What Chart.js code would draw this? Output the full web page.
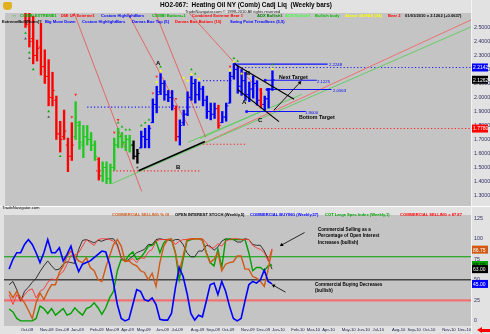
<!DOCTYPE html>
<html><head><meta charset="utf-8">
<script src="https://cdn.jsdelivr.net/npm/chart.js@4.4.1/dist/chart.umd.min.js"></script>
<style>
html,body{margin:0;padding:0;background:#e2e2e2;}
#wrap{position:relative;width:490px;height:334px;overflow:hidden;background:#e2e2e2;font-family:"Liberation Sans",Arial,sans-serif;}
canvas{position:absolute;left:0;}
.t{position:absolute;white-space:pre;line-height:1;font-weight:bold;}
.s{font-size:4.1px;}
.n{font-weight:normal;}
</style></head><body>
<div id="wrap">
<canvas id="cTop" width="490" height="211" style="top:0"></canvas>
<canvas id="cBot" width="490" height="123" style="top:211px"></canvas>

<div style="position:absolute;left:3px;top:2px;width:9px;height:8px;background:#e0b020;border-radius:2px 2px 4px 4px;"></div>
<div class="t" style="left:160px;top:2px;font-size:6.4px;color:#000">HO2-067:  Heating Oil NY (Comb) Cadj Liq  (Weekly bars)</div>
<div class="t n" style="left:185px;top:9.8px;font-size:4.1px;color:#222">TradeNavigator.com © 1999-2010 All rights reserved</div>

<div class="t s" style="left:12px;top:13.6px;color:#00b000">↑↑</div>
<div class="t s" style="left:20px;top:13.6px;color:#00b000">COMBI EXTREME1</div>
<div class="t s" style="left:61px;top:13.6px;color:#ff0000">DMI UP Extreme1</div>
<div class="t s" style="left:101px;top:13.6px;color:#0000ff">Custom HighlightBars</div>
<div class="t s" style="left:152px;top:13.6px;color:#00b000">COMBI Bottom+1</div>
<div class="t s" style="left:192px;top:13.6px;color:#ff0000">Combined Extreme Bear 1</div>
<div class="t s" style="left:257px;top:13.6px;color:#008000">ADX Bullish1</div>
<div class="t s" style="left:285px;top:13.6px;color:#40ff40">ADX Bullish1</div>
<div class="t s" style="left:315px;top:13.6px;color:#00c000">Bullish body</div>
<div class="t s" style="left:345px;top:13.6px;color:#ffff00">Above 34 MAX (34)</div>
<div class="t s" style="left:388px;top:13.6px;color:#ff0000">Bear 2</div>
<div class="t s" style="left:405px;top:13.6px;color:#000">01/01/2010 = 2.1262 (+0.0637)</div>

<div class="t s" style="left:2px;top:20px;color:#000">ExtremeBull(Norm)?</div>
<div class="t s" style="left:45px;top:20px;color:#0000ff">Big Move Down</div>
<div class="t s" style="left:82px;top:20px;color:#0000ff">Custom HighlightBars</div>
<div class="t s" style="left:132px;top:20px;color:#0000ff">Darvas Box Top (5)</div>
<div class="t s" style="left:175px;top:20px;color:#ff0000">Darvas Box Bottom (10)</div>
<div class="t s" style="left:230px;top:20px;color:#0000ff">Swing Point Trendlines (5,5)</div>

<div class="t" style="left:156px;top:60px;font-size:6px;color:#000">A</div>
<div class="t" style="left:176px;top:164px;font-size:6px;color:#000">B</div>
<div class="t" style="left:246px;top:70px;font-size:6px;color:#000">B</div>
<div class="t" style="left:242px;top:99px;font-size:6px;color:#000">A</div>
<div class="t" style="left:258px;top:116.5px;font-size:6px;color:#000">C</div>
<div class="t" style="left:279px;top:75px;font-size:5.3px;color:#000">Next Target</div>
<div class="t" style="left:299px;top:115px;font-size:5.3px;color:#000">Bottom Target</div>
<div class="t n" style="left:329px;top:63px;font-size:4.3px;color:#0000ff">2.2248</div>
<div class="t n" style="left:317px;top:79.5px;font-size:4.3px;color:#0000ff">2.1225</div>
<div class="t n" style="left:333px;top:89px;font-size:4.3px;color:#0000ff">2.0563</div>
<div class="t n" style="left:305px;top:111px;font-size:4.3px;color:#0000ff">1.9000</div>
<div class="t n" style="left:2px;top:205.5px;font-size:4.2px;color:#000">TradeNavigator.com</div>

<div class="t s" style="left:112px;top:212.5px;color:#d06020">COMMERCIAL SELLING % OI</div>
<div class="t s" style="left:175px;top:212.5px;color:#000">OPEN INTEREST STOCH (Weekly,5)</div>
<div class="t s" style="left:250px;top:212.5px;color:#0000ff">COMMERCIAL BUYING (Weekly,57)</div>
<div class="t s" style="left:325px;top:212.5px;color:#00a000">COT Large Spec Index (Weekly,1)</div>
<div class="t s" style="left:400px;top:212.5px;color:#ff0000">COMMERCIAL SELLING = 87.87</div>

<div class="t" style="left:318px;top:227.5px;font-size:4.6px;color:#000">Commercial Selling as a</div>
<div class="t" style="left:318px;top:234px;font-size:4.6px;color:#000">Percentage of Open Interest</div>
<div class="t" style="left:318px;top:240.5px;font-size:4.6px;color:#000">Increases (bullish)</div>
<div class="t" style="left:315px;top:282.5px;font-size:4.6px;color:#000">Commercial Buying Decreases</div>
<div class="t" style="left:315px;top:288.5px;font-size:4.6px;color:#000">(bullish)</div>

<div style="position:absolute;left:477px;top:327px;width:0;height:0;border-top:3.5px solid transparent;border-bottom:3.5px solid transparent;border-right:5px solid #ff0000;"></div>
<div style="position:absolute;left:482px;top:329px;width:8px;height:3px;background:#ff0000;"></div>
</div>
<script>
// ---------- categories / ticks ----------
const firstWeek = '2008-09-12';
const monthLabels = ['Oct-08','Nov-08','Dec-08','Jan-09','Feb-09','Mar-09','Apr-09','May-09','Jun-09','Jul-09','Aug-09','Sep-09','Oct-09','Nov-09','Dec-09','Jan-10','Feb-10','Mar-10','Apr-10','May-10','Jun-10','Jul-10','Aug-10','Sep-10','Oct-10','Nov-10','Dec-10'];
const priceTicks = [1.3,1.4,1.5,1.6,1.7,1.8,1.9,2.0,2.1,2.2,2.3,2.4,2.5];
const oscTicks = [0,25,50,75,100,125];

// ---------- weekly OHLC (first 4 weeks above the visible range) ----------
const highs = [null,null,null,null,
2.66,2.62,2.58,2.41,2.53,2.34,2.27,2.18,2.01,1.83,
1.91,1.71,1.82,1.97,1.83,1.80,1.80,1.75,1.69,1.57,
1.54,1.54,1.525,1.71,1.78,1.75,1.73,1.73,1.69,1.63,
1.76,1.78,1.80,1.99,2.08,2.17,2.12,2.05,2.05,1.94,
1.84,1.91,2.04,2.15,2.13,2.11,2.08,2.01,1.96,1.96,
1.945,1.90,1.96,2.18,2.24,2.225,2.20,2.18,2.11,2.155,
2.12,2.065,2.01,2.065,2.19];
const lows = [null,null,null,null,
2.50,2.36,2.24,2.26,2.16,2.10,1.94,1.94,1.70,1.61,
1.70,1.47,1.55,1.70,1.63,1.57,1.66,1.62,1.55,1.41,
1.40,1.385,1.385,1.48,1.64,1.64,1.62,1.61,1.56,1.53,
1.64,1.64,1.64,1.82,1.89,2.02,1.98,1.97,1.91,1.69,
1.66,1.80,1.87,1.98,1.96,1.98,1.94,1.85,1.84,1.85,
1.78,1.82,1.83,1.96,2.13,2.03,2.015,1.98,1.97,1.995,
1.945,1.925,1.91,1.925,2.05];
const opens = [null,null,null,null,
2.64,2.55,2.42,2.30,2.36,2.22,2.15,2.00,1.98,1.74,
1.72,1.66,1.58,1.72,1.80,1.66,1.72,1.70,1.66,1.56,
1.44,1.50,1.42,1.50,1.66,1.72,1.68,1.70,1.66,1.58,
1.64,1.72,1.70,1.82,1.95,2.04,2.10,2.02,2.00,1.92,
1.72,1.82,1.88,2.00,2.10,2.02,2.06,1.98,1.90,1.88,
1.92,1.82,1.86,1.96,2.15,2.20,2.08,2.12,2.02,2.06,
2.10,1.98,1.95,1.99,2.06];
const closes = [null,null,null,null,
2.52,2.40,2.30,2.35,2.22,2.15,2.00,2.05,1.74,1.70,
1.76,1.58,1.66,1.82,1.68,1.72,1.70,1.66,1.58,1.44,
1.50,1.42,1.50,1.66,1.72,1.68,1.70,1.66,1.58,1.60,
1.72,1.70,1.78,1.95,2.02,2.10,2.02,2.00,1.94,1.72,
1.80,1.88,2.00,2.10,2.02,2.06,1.98,1.90,1.88,1.92,
1.80,1.86,1.94,2.15,2.20,2.08,2.12,2.02,2.06,2.10,
1.98,1.95,1.99,2.06,2.1262];
const D='down',U='bull',F='flat',H='highlight';
const barClass = [null,null,null,null,
D,D,D,D,D,D,D,D,D,D,D,D,D, U,U,U,U,U,U, D, U,U,U,U,U,U,U,U, F,F,
H,H,H,H,H,H,H,H,H, D, H,H,H,H,H,H,H,H,H,H, D, H,H,H,H,H,H,H,H,H,H, D, H,H,H];

// ---------- signal markers [week, price] ----------
const sigRedDown = [[16,1.86],[17,2.02],[27,1.75],[28,1.84],[37,2.03],[38,2.15],[43,1.99],[57,2.22]];
const sigGreenUp = [[28,1.82],[29,1.79],[30,1.77],[31,1.77],[34,1.80],[35,1.82],[36,1.84],[39,2.22],[47,2.20],[48,2.17],[58,2.28],[59,2.26],[68,2.235]];
const sigYellow = [[38,2.11],[39,2.19],[45,2.14],[46,2.12],[47,2.165],[49,2.13],[57,2.195],[58,2.255],[60,2.17],[68,2.205]];
const sigGreenLow = [[4,2.46],[5,2.32],[6,2.20],[10,1.90],[13,1.58]];
const sigGray = [[4,2.42],[5,2.28],[10,1.86],[33,1.50]];

// ---------- drawn studies [week1, price1, week2, price2] ----------
const downTrendlines = [[16.6,2.603,34.1,1.33],[30.5,2.603,46.1,1.80],[37.7,2.603,50.7,1.715],[46.4,2.603,65.4,2.027]];
const upTrendGreen = [[26.4,1.385,119.5,2.504],[46.1,1.679,75.6,2.022],[49.2,1.707,65.4,1.903]];
const upTrendRed = [[49.5,1.665,119.5,2.554]];
const blackLines = [[33.3,1.477,50.5,1.686],[58.2,2.239,73.6,1.987],[59.0,2.057,69.7,1.827]];
const targetArrow = [68.4,1.910,75.1,2.106];
const dottedRed = [[22.3,1.476,49.5,1.476],[50,1.666,61,1.666],[61.5,1.778,119.5,1.778]];
const dottedBlue = [[20,1.931,49.2,1.931],[50,2.12,57.7,2.12],[60,2.214,119.5,2.214]];
const targetLevels = [[58.2,2.238,82.3],[66.1,2.1225,79.5],[66.6,2.0563,83.3],[61.3,1.90,76.6]];

// ---------- COT oscillators (weekly) ----------
const commBuying = [63,75,83,83,93,99,93,83,71,83, 99,83,83,89,73,81,91,73,60,69, 71,73,77,81,85,84,69,46,20,3, 0,2,20,38,36,26,24,28,20,2, 1,1,9,40,65,54,34,9,1,7, 5,24,44,46,32,48,36,18,3,0, 3,24,44,48,46,50,62,48,45];
const commSellPctOI = [36,28,36,28,22,13,3,22,34,26, 36,44,44,59,67,79,85,79,73,71, 77,65,61,50,48,65,79,93,99,91, 73,73,69,67,61,59,50,58,42,71, 91,99,100,83,59,79,99,100,100,100, 98,83,71,75,83,61,69,71,72,79, 79,63,63,54,52,48,42,63,86.75];
const oiStoch = [44,48,38,24,36,41,47,52,60,67, 73,67,62,63,69,72,71,70,87,98, 99,97,95,98,97,99,100,100,93,77, 72,75,79,83,85,87,93,93,99,100, 99,99,97,99,99,93,83,78,78,85, 85,92,91,86,90,97,100,99,99,96, 96,100,99,93,92,92,85,75,63];
const largeSpec = [14.5,11,3,0,0,0,0,3,18,15, 9,15,7,11,15,7,9,16,11,7, 15,17,22,16,8,16,28,36,61,75, 73,80,84,75,77,83,91,92,97,83, 95,99,99,83,50,75,97,99,100,100, 99,83,71,67,87,65,99,100,99,99, 99,99,83,61,65,65,61,67,68];
const commSelling = [32,20,32,24,32,37,39,28,36,39, 47,51,50,56,60,69,80,80,83,91, 99,95,92,99,100,100,99,97,91,76, 72,73,76,71,77,76,84,87,97,99, 99,99,99,93,97,99,99,99,100,100, 100,95,89,89,94,91,97,99,100,100, 99,99,99,92,89,87,83,73,87.87];
const oscLevels = [78,50,25];
const noteArrows = [[76.4,107.6,70.5,92.4],[71.5,35,68.4,43.1]];

// ---------- styles ----------
const PLOT_BG='#c4c4c4', OUTER_BG='#e2e2e2';
const CLASS_COLORS = {down:'#ff0000', bull:'#22c822', flat:'#000000', highlight:'#0000ff'};
const X_MIN=-1.31, X_MAX=119.45;

Chart.defaults.font.family='"Liberation Sans", Arial, sans-serif';
Chart.defaults.animation=false;

const MONTHS=['Jan','Feb','Mar','Apr','May','Jun','Jul','Aug','Sep','Oct','Nov','Dec'];
const w0 = new Date(firstWeek+'T00:00:00Z').getTime();
const monthTicks = monthLabels.map(l=>{
  const [m,y]=l.split('-'); const mi=MONTHS.indexOf(m), yr=2000+Number(y);
  for(let k=0;k<300;k++){const d=new Date(w0+k*7*864e5); if(d.getUTCFullYear()===yr&&d.getUTCMonth()===mi) return k;}
});

const bgPlugin={id:'bg',beforeDraw(c){const{ctx,chartArea:a,width,height}=c;ctx.save();ctx.fillStyle=OUTER_BG;ctx.fillRect(0,0,width,height);ctx.fillStyle=PLOT_BG;ctx.fillRect(a.left,a.top,a.right-a.left,a.bottom-a.top);ctx.fillStyle='#f4f4f4';ctx.fillRect(a.right,0,1,height);ctx.restore();},
 afterDraw(c,args,opts){const{ctx,chartArea:a}=c;ctx.save();const ys=c.scales.y;(opts.tags||[]).forEach(t=>{const py=ys.getPixelForValue(t.value);ctx.fillStyle=t.bg;ctx.fillRect(a.right+1,py-4,16,8);ctx.fillStyle=t.fg;ctx.font='5px "Liberation Sans", Arial';ctx.textBaseline='middle';ctx.fillText(t.text,a.right+2,py+0.5);});
  if(opts.sep){ctx.fillStyle='#ffffff';ctx.fillRect(0,a.bottom,c.width,1);}ctx.restore();}};

function seg(p,color,width,dash,order){return{type:'line',data:[{x:p[0],y:p[1]},{x:p[2],y:p[3]}],borderColor:color,borderWidth:width,borderDash:dash||[],pointRadius:0,clip:0,order:order==null?3:order};}
function pts(arr,style,color,radius,rot,order){return{type:'scatter',data:arr.map(a=>({x:a[0],y:a[1]})),pointStyle:style,pointRadius:radius,pointRotation:rot||0,pointBackgroundColor:color,pointBorderColor:color,pointBorderWidth:0,clip:0,order:order==null?0:order};}

// ---------- upper chart ----------
const weeks = highs.map((h,k)=>h==null?null:k).filter(k=>k!==null);
const ds=[];
ds.push({type:'bar',data:weeks.map(k=>({x:k,y:[lows[k],highs[k]]})),backgroundColor:weeks.map(k=>CLASS_COLORS[barClass[k]]),barThickness:1.7,borderWidth:0,grouped:false,clip:0,order:1});
ds.push({type:'scatter',data:weeks.map(k=>({x:k-0.28,y:opens[k]})),pointStyle:'line',pointRadius:1.1,pointBorderWidth:1,pointBorderColor:weeks.map(k=>CLASS_COLORS[barClass[k]]),clip:0,order:1});
ds.push({type:'scatter',data:weeks.map(k=>({x:k+0.28,y:closes[k]})),pointStyle:'line',pointRadius:1.1,pointBorderWidth:1,pointBorderColor:weeks.map(k=>CLASS_COLORS[barClass[k]]),clip:0,order:1});
downTrendlines.forEach(p=>ds.push(seg(p,'rgba(240,60,60,0.85)',0.8)));
upTrendGreen.forEach(p=>ds.push(seg(p,'#5ccc5c',0.9)));
upTrendRed.forEach(p=>ds.push(seg(p,'#f06868',0.9)));
dottedRed.forEach(p=>ds.push(seg(p,'#ff2020',1.1,[1.2,2.2])));
dottedBlue.forEach(p=>ds.push(seg(p,'#2020ff',1.1,[1.2,2.2])));
targetLevels.forEach(t=>{const s=seg([t[0],t[1],t[2],t[1]],'#1010ff',1.1,[],2);s.pointRadius=[1.5,0];s.pointBackgroundColor='#1010ff';s.pointBorderWidth=0;ds.push(s);});
ds.push(seg(blackLines[0],'#000',1.6,[],0));
ds.push(seg(blackLines[1],'#000',1.1,[],0));
ds.push(seg(blackLines[2],'#000',1.1,[],0));
ds.push(seg(targetArrow,'#000',0.9,[],0));
ds.push(pts([[targetArrow[2],targetArrow[3]]],'triangle','#000',2.2,43));
ds.push(pts(sigRedDown,'triangle','#ff2020',1.6,180));
ds.push(pts(sigGreenUp,'triangle','#00b000',1.5,0));
ds.push(pts(sigYellow,'circle','#ffff00',1.1,0));
ds.push(pts(sigGreenLow,'triangle','#00b000',1.6,0));
ds.push(pts(sigGray,'triangle','#555555',1.6,0));

new Chart(document.getElementById('cTop'),{
  type:'bar',data:{datasets:ds},
  options:{responsive:false,devicePixelRatio:1,events:[],
    layout:{padding:{top:13,bottom:1,left:0,right:0}},
    plugins:{legend:{display:false},tooltip:{enabled:false},bg:{sep:true,tags:[
      {value:2.214,text:'2.2142',bg:'#0000ff',fg:'#ffffff'},
      {value:closes[closes.length-1],text:closes[closes.length-1].toFixed(4),bg:'#000000',fg:'#ffffff'},
      {value:1.778,text:'1.7780',bg:'#ff0000',fg:'#ffffff'}]}},
    scales:{
      x:{type:'linear',display:false,min:X_MIN,max:X_MAX,offset:false},
      y:{position:'right',min:1.225,max:2.603,grid:{display:false,drawTicks:false},border:{display:false},
        afterBuildTicks:s=>{s.ticks=priceTicks.map(v=>({value:v}));},
        afterFit:s=>{s.width=19;s.paddingTop=0;s.paddingBottom=0;},
        ticks:{padding:3,font:{size:5.3},color:'#303060',callback:v=>Number(v).toFixed(4)}}
    }},
  plugins:[bgPlugin]});

// ---------- lower chart ----------
const line=(arr,color,w,order)=>({type:'line',data:arr.map((v,k)=>({x:k,y:v})),borderColor:color,borderWidth:w,pointRadius:0,tension:0,clip:0,order});
const ds2=[
  line(commBuying,'#0000ff',1.6,1),
  line(commSellPctOI,'#d05a14',1.4,2),
  line(commSelling,'#ff3030',0.9,3),
  line(largeSpec,'#00a000',1.4,4),
  line(oiStoch,'#202020',0.9,5),
  seg([X_MIN,oscLevels[0],X_MAX,oscLevels[0]],'#00a000',1.1,[],8),
  seg([X_MIN,oscLevels[1],X_MAX,oscLevels[1]],'#454545',1.5,[],8),
  seg([X_MIN,oscLevels[2],X_MAX,oscLevels[2]],'#f07070',2.2,[],8)
];
noteArrows.forEach(a=>ds2.push(seg(a,'#000',0.8,[],0)));
ds2.push(pts([[noteArrows[0][2],noteArrows[0][3]]],'triangle','#000',2.2,240));
ds2.push(pts([[noteArrows[1][2],noteArrows[1][3]]],'triangle','#000',2.2,300));
const last=a=>a[a.length-1];
new Chart(document.getElementById('cBot'),{
  type:'line',data:{datasets:ds2},
  options:{responsive:false,devicePixelRatio:1,events:[],
    layout:{padding:0},
    plugins:{legend:{display:false},tooltip:{enabled:false},bg:{tags:[
      {value:last(commSellPctOI),text:last(commSellPctOI).toFixed(2),bg:'#d05a14',fg:'#ffffff'},
      {value:last(largeSpec),text:last(largeSpec).toFixed(2),bg:'#00a000',fg:'#000000'},
      {value:last(oiStoch),text:last(oiStoch).toFixed(2),bg:'#000000',fg:'#ffffff'},
      {value:last(commBuying),text:last(commBuying).toFixed(2),bg:'#0000ff',fg:'#ffffff'}]}},
    scales:{
      x:{type:'linear',min:X_MIN,max:X_MAX,offset:false,grid:{display:false,drawTicks:false},border:{display:false},
        afterBuildTicks:s=>{s.ticks=monthTicks.map(v=>({value:v}));},
        afterFit:s=>{s.height=8;s.paddingLeft=0;s.paddingRight=0;},
        ticks:{autoSkip:false,maxRotation:0,minRotation:0,align:'start',padding:1.5,font:{size:4.2},color:'#202050',callback:(v,i)=>monthLabels[i]}},
      y:{position:'right',min:-6.2,max:128.9,grid:{display:false,drawTicks:false},border:{display:false},
        afterBuildTicks:s=>{s.ticks=oscTicks.map(v=>({value:v}));},
        afterFit:s=>{s.width=19;s.paddingTop=0;s.paddingBottom=0;},
        ticks:{padding:3,font:{size:5.3},color:'#303060',callback:v=>String(v)}}
    }},
  plugins:[bgPlugin]});
</script>
</body></html>
